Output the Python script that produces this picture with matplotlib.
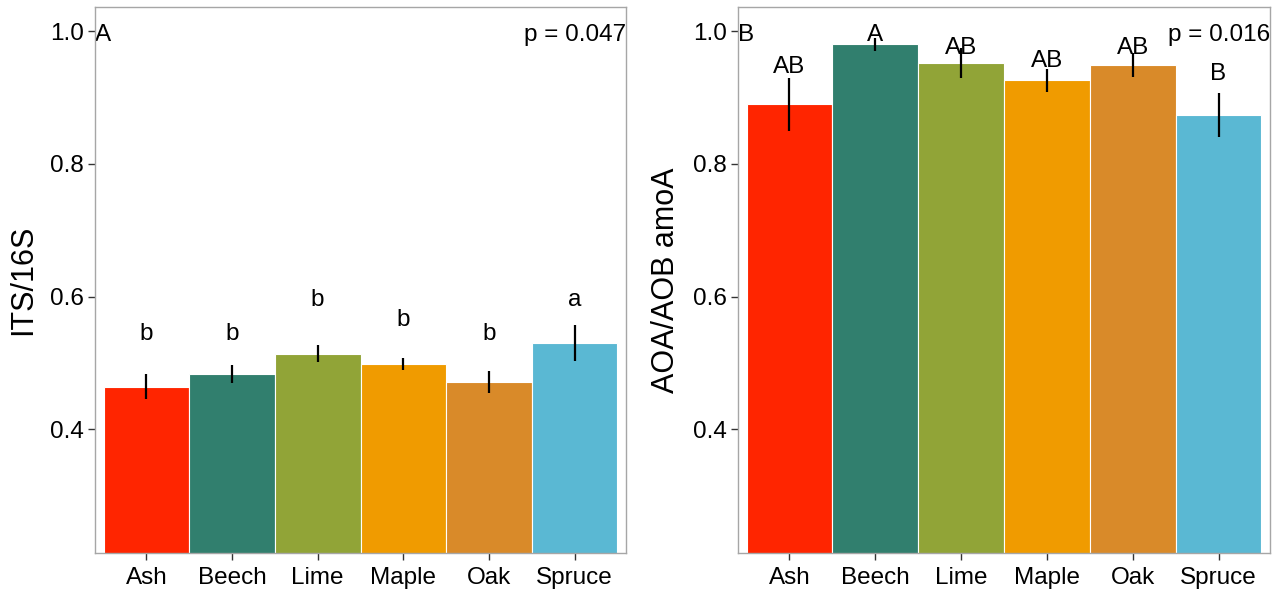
import numpy as np
import matplotlib.pyplot as plt

plt.rcParams['font.family'] = ['Liberation Sans', 'DejaVu Sans']

species = ['Ash', 'Beech', 'Lime', 'Maple', 'Oak', 'Spruce']
species_colors = ['#FF2500', '#317F6E', '#91A437', '#F09B00', '#D98A29', '#5AB8D3']

# ITS/16S ratio per tree species
its_mean = [0.464, 0.483, 0.514, 0.498, 0.471, 0.530]
its_se = [0.019, 0.0135, 0.013, 0.009, 0.017, 0.027]
its_letters = ['b', 'b', 'b', 'b', 'b', 'a']
its_letter_y = [0.543, 0.543, 0.595, 0.565, 0.543, 0.595]
its_p = 'p = 0.047'

# AOA/AOB amoA ratio per tree species
amoa_mean = [0.890, 0.980, 0.952, 0.926, 0.949, 0.874]
amoa_se = [0.040, 0.010, 0.022, 0.0175, 0.0175, 0.033]
amoa_letters = ['AB', 'A', 'AB', 'AB', 'AB', 'B']
amoa_letter_y = [0.946, 0.994, 0.975, 0.955, 0.975, 0.936]
amoa_p = 'p = 0.016'

yticks = [0.4, 0.6, 0.8, 1.0]


def bar_panel(ax, means, ses, letters, letter_y, p_text, panel, ylabel):
    """Bar chart of means with SE bars, group letters and a p value."""
    x = np.arange(1, len(species) + 1)
    ax.bar(x, means, width=1.0, color=species_colors,
           edgecolor='white', linewidth=0.8, zorder=2)
    ax.vlines(x, np.array(means) - np.array(ses), np.array(means) + np.array(ses),
              color='black', linewidth=1.6, zorder=3)
    for xi, lab, ly in zip(x, letters, letter_y):
        ax.text(xi, ly, lab, ha='center', va='center', fontsize=17.5, zorder=4)

    ax.text(0.4, 0.995, panel, ha='left', va='center', fontsize=17.5)
    ax.text(6.6, 0.995, p_text, ha='right', va='center', fontsize=17.5)

    ax.set_xlim(0.4, 6.6)
    ax.set_ylim(0.2135, 1.0365)
    ax.set_xticks(x)
    ax.set_xticklabels(species)
    ax.set_yticks(yticks)
    ax.set_yticklabels([f'{t:.1f}' for t in yticks])
    ax.tick_params(axis='both', labelsize=17.5, length=5, width=1,
                   color='#333333')
    ax.tick_params(axis='x', pad=5)
    ax.tick_params(axis='y', pad=3)
    ax.set_ylabel(ylabel, fontsize=22)
    ax.yaxis.set_label_coords(-0.107, 0.5)
    for spine in ax.spines.values():
        spine.set_color('#A6A6A6')
        spine.set_linewidth(1.0)
        spine.set_zorder(5)


fig = plt.figure(figsize=(12.78, 5.94), dpi=100)
ax1 = fig.add_axes([95 / 1278, 41 / 594, 531 / 1278, 546 / 594])
ax2 = fig.add_axes([738 / 1278, 41 / 594, 532 / 1278, 546 / 594])

bar_panel(ax1, its_mean, its_se, its_letters, its_letter_y, its_p, 'A', 'ITS/16S')
bar_panel(ax2, amoa_mean, amoa_se, amoa_letters, amoa_letter_y, amoa_p, 'B', 'AOA/AOB amoA')

fig.savefig('out.png', dpi=100)
